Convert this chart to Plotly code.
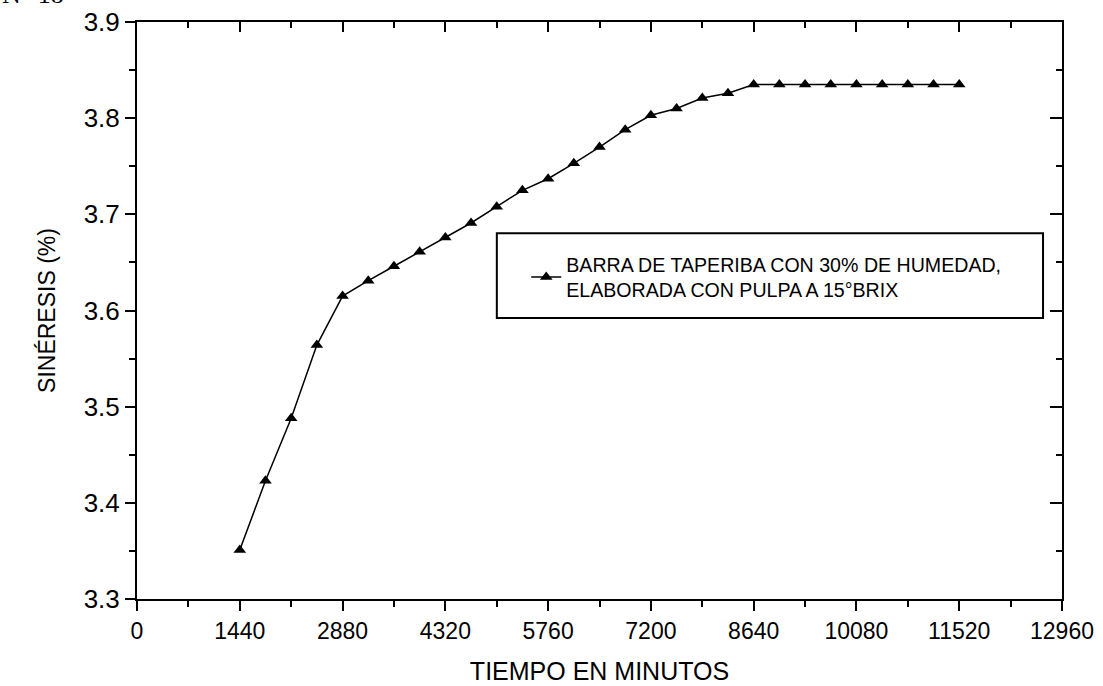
import plotly.graph_objects as go

# Data
tiempo = [1440, 1800, 2160, 2520, 2880, 3240, 3600, 3960, 4320, 4680, 5040, 5400,
          5760, 6120, 6480, 6840, 7200, 7560, 7920, 8280, 8640, 9000, 9360, 9720,
          10080, 10440, 10800, 11160, 11520]
sineresis = [3.351, 3.423, 3.488, 3.564, 3.615, 3.631, 3.646, 3.661, 3.676, 3.691, 3.708, 3.725,
             3.737, 3.753, 3.770, 3.788, 3.803, 3.810, 3.821, 3.826, 3.835, 3.835, 3.835, 3.835,
             3.835, 3.835, 3.835, 3.835, 3.835]
x_ticks = [0, 1440, 2880, 4320, 5760, 7200, 8640, 10080, 11520, 12960]
x_tick_labels = ["0", "1440", "2880", "4320", "5760", "7200", "8640", "10080", "11520", "12960"]
y_ticks = [3.3, 3.4, 3.5, 3.6, 3.7, 3.8, 3.9]
serie_nombre = "BARRA DE TAPERIBA CON 30% DE HUMEDAD,<br>ELABORADA CON PULPA A 15°BRIX"

FONT = "Liberation Sans, Arial, sans-serif"

fig = go.Figure()
fig.add_trace(go.Scatter(
    x=tiempo, y=sineresis, mode="lines+markers", name=serie_nombre,
    line=dict(color="black", width=1.5),
    marker=dict(symbol="triangle-up", size=11, color="black"),
    hoverinfo="x+y",
))
# helper trace so the mirrored top/right axes are drawn
fig.add_trace(go.Scatter(
    x=tiempo, y=sineresis, xaxis="x2", yaxis="y2", mode="lines",
    line=dict(color="rgba(0,0,0,0)"), showlegend=False, hoverinfo="skip",
))

axis_common = dict(showgrid=False, zeroline=False, showline=True, linecolor="black",
                   linewidth=2, tickcolor="black", tickwidth=2, automargin=False)

fig.update_layout(
    width=1103, height=686,
    margin=dict(l=137, r=41, t=22, b=87),
    paper_bgcolor="white", plot_bgcolor="white",
    showlegend=True,
    xaxis=dict(range=[0, 12960], tickvals=x_ticks, ticktext=x_tick_labels, ticks="outside", ticklen=10,
               minor=dict(dtick=720, tick0=0, ticks="outside", ticklen=6, tickwidth=2, tickcolor="black"),
               tickfont=dict(family=FONT, size=23, color="black"),
               title=dict(text="TIEMPO EN MINUTOS", font=dict(family=FONT, size=25, color="black"), standoff=20),
               **axis_common),
    yaxis=dict(range=[3.3, 3.9], tickvals=y_ticks, tickformat=".1f", ticks="outside", ticklen=10,
               minor=dict(dtick=0.05, tick0=3.3, ticks="outside", ticklen=6, tickwidth=2, tickcolor="black"),
               tickfont=dict(family=FONT, size=26, color="black"),
               title=dict(text="SINÉRESIS (%)", font=dict(family=FONT, size=23, color="black"), standoff=22),
               **axis_common),
    xaxis2=dict(range=[0, 12960], overlaying="x", side="top", tickvals=x_ticks, ticks="inside",
                ticklen=10, showticklabels=False,
                minor=dict(dtick=720, tick0=0, ticks="inside", ticklen=6, tickwidth=2, tickcolor="black"),
                **axis_common),
    yaxis2=dict(range=[3.3, 3.9], overlaying="y", side="right", tickvals=y_ticks, ticks="inside",
                ticklen=12, showticklabels=False,
                minor=dict(dtick=0.05, tick0=3.3, ticks="inside", ticklen=6, tickwidth=2, tickcolor="black"),
                **axis_common),
    legend=dict(x=0.4208, y=0.558, xanchor="left", yanchor="middle",
                bgcolor="rgba(0,0,0,0)", borderwidth=0,
                font=dict(family=FONT, size=19.6, color="black")),
    shapes=[dict(type="rect", xref="paper", yref="paper", x0=0.389, x1=0.9795, y0=0.487, y1=0.634,
                 line=dict(color="black", width=2), fillcolor="rgba(0,0,0,0)")],
    annotations=[dict(text="N° 18", xref="paper", yref="paper", x=-0.148, y=1.019,
                      xanchor="left", yanchor="bottom", showarrow=False,
                      font=dict(family="Liberation Serif, Times New Roman, serif", size=26, color="black"))],
)

fig.write_html("out.html", config={"displayModeBar": False},
               post_script="document.body.style.margin='0';document.body.style.padding='0';")
